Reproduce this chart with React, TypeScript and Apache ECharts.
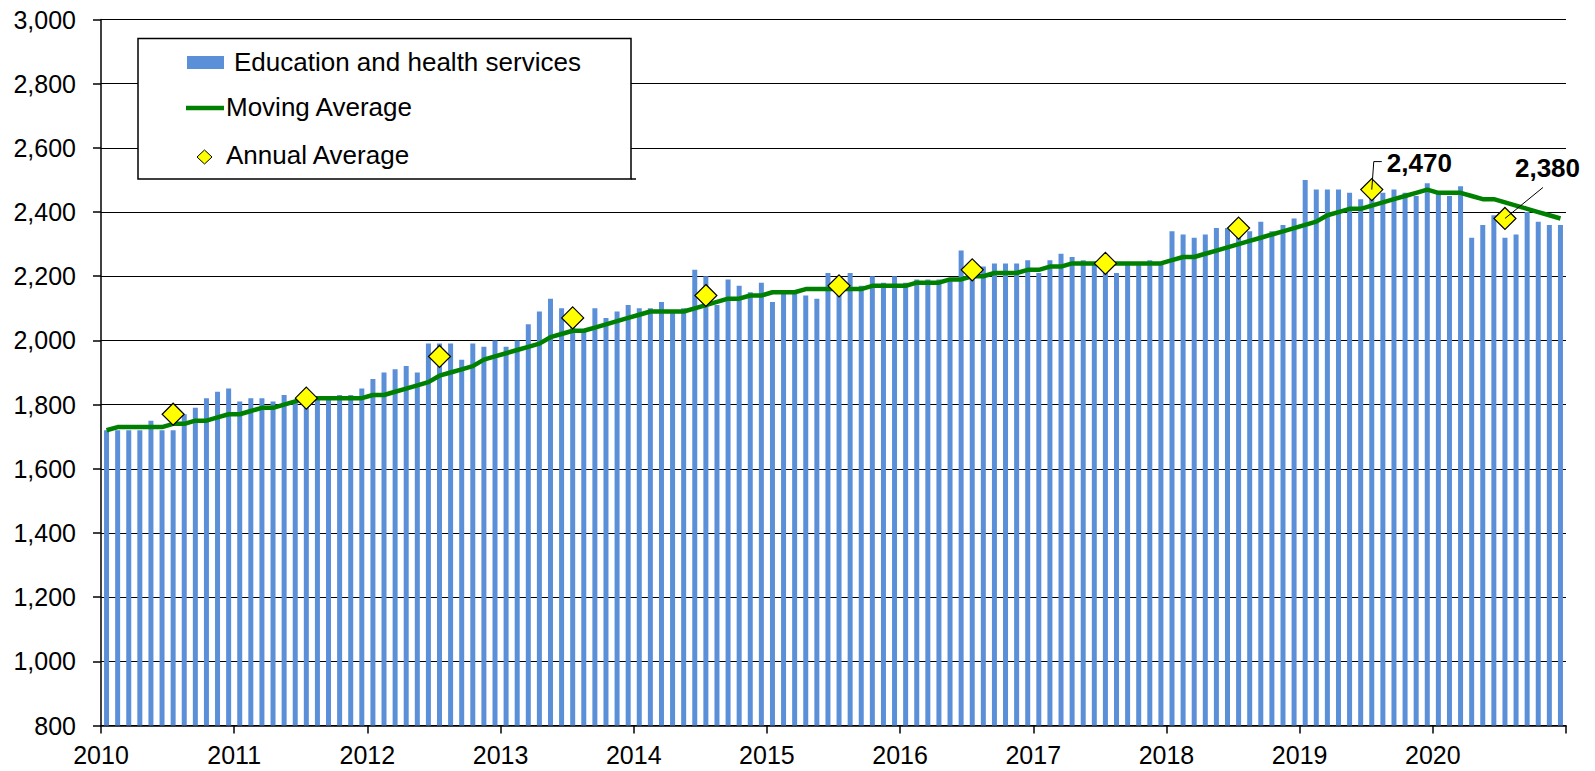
import React, { useEffect, useRef } from "react";
import * as echarts from "echarts";

const years = ["2010", "2011", "2012", "2013", "2014", "2015", "2016", "2017", "2018", "2019", "2020"];
const monthCodes = ["01", "02", "03", "04", "05", "06", "07", "08", "09", "10", "11", "12"];

const barValues = [
  1720, 1720, 1720, 1720, 1750, 1720, 1720, 1770, 1790, 1820, 1840, 1850,
  1810, 1820, 1820, 1810, 1830, 1810, 1810, 1820, 1820, 1830, 1830, 1850,
  1880, 1900, 1910, 1920, 1900, 1990, 1990, 1990, 1940, 1990, 1980, 2000,
  1980, 2000, 2050, 2090, 2130, 2100, 2090, 2030, 2100, 2070, 2090, 2110,
  2100, 2100, 2120, 2090, 2100, 2220, 2200, 2110, 2190, 2170, 2150, 2180,
  2120, 2150, 2150, 2140, 2130, 2210, 2180, 2210, 2170, 2200, 2180, 2200,
  2180, 2190, 2190, 2190, 2190, 2280, 2210, 2230, 2240, 2240, 2240, 2250,
  2210, 2250, 2270, 2260, 2250, 2240, 2230, 2210, 2240, 2240, 2250, 2240,
  2340, 2330, 2320, 2330, 2350, 2350, 2370, 2340, 2370, 2340, 2360, 2380,
  2500, 2470, 2470, 2470, 2460, 2440, 2450, 2460, 2470, 2460, 2450, 2490,
  2460, 2450, 2480, 2320, 2360, 2390, 2320, 2330, 2400, 2370, 2360, 2360,
];

const movingAverage = [
  1720, 1730, 1730, 1730, 1730, 1730, 1740, 1740, 1750, 1750, 1760, 1770,
  1770, 1780, 1790, 1790, 1800, 1810, 1820, 1820, 1820, 1820, 1820, 1820,
  1830, 1830, 1840, 1850, 1860, 1870, 1890, 1900, 1910, 1920, 1940, 1950,
  1960, 1970, 1980, 1990, 2010, 2020, 2030, 2030, 2040, 2050, 2060, 2070,
  2080, 2090, 2090, 2090, 2090, 2100, 2110, 2120, 2130, 2130, 2140, 2140,
  2150, 2150, 2150, 2160, 2160, 2160, 2160, 2160, 2160, 2170, 2170, 2170,
  2170, 2180, 2180, 2180, 2190, 2190, 2200, 2200, 2210, 2210, 2210, 2220,
  2220, 2230, 2230, 2240, 2240, 2240, 2240, 2240, 2240, 2240, 2240, 2240,
  2250, 2260, 2260, 2270, 2280, 2290, 2300, 2310, 2320, 2330, 2340, 2350,
  2360, 2370, 2390, 2400, 2410, 2410, 2420, 2430, 2440, 2450, 2460, 2470,
  2460, 2460, 2460, 2450, 2440, 2440, 2430, 2420, 2410, 2400, 2390, 2380,
];

const annualAverage = [1770, 1820, 1950, 2070, 2140, 2170, 2220, 2240, 2350, 2470, 2380];

const FONT = "'Liberation Sans', Arial, sans-serif";
const BAR_COLOR = "#5b8fd8";
const LINE_COLOR = "#008000";

export default function App() {
  const ref = useRef<HTMLDivElement>(null);

  useEffect(() => {
    if (!ref.current) return;
    const chart = echarts.init(ref.current, null, { renderer: "svg" });
    const months = years.flatMap((y) => monthCodes.map((m) => `${y}-${m}`));
    const annualPoints = years.map((y, i) => [`${y}-07`, annualAverage[i]]);
    const fmt = (v: number) => v.toLocaleString("en-US");

    chart.setOption({
      animation: false,
      grid: { left: 101, top: 19.5, width: 1465, height: 706, containLabel: false },
      xAxis: [
        {
          type: "category",
          data: months,
          boundaryGap: true,
          axisLine: { show: true, lineStyle: { color: "#000", width: 1.5 } },
          axisTick: { show: false },
          axisLabel: { show: false },
          splitLine: { show: false },
        },
        {
          type: "value",
          min: 0,
          max: months.length,
          interval: 12,
          position: "bottom",
          axisLine: { show: false },
          axisTick: { show: true, length: 8, lineStyle: { color: "#000", width: 1.5 } },
          axisLabel: {
            show: true,
            showMinLabel: true,
            showMaxLabel: true,
            formatter: (v: number) => years[Math.round(v / 12)] ?? "",
            fontSize: 25,
            fontFamily: FONT,
            color: "#000",
            margin: 17,
          },
          splitLine: { show: false },
        },
      ],
      yAxis: {
        type: "value",
        min: 800,
        max: 3000,
        interval: 200,
        axisLine: { show: true, lineStyle: { color: "#000", width: 1.5 } },
        axisTick: { show: true, length: 8, lineStyle: { color: "#000", width: 1.5 } },
        axisLabel: {
          formatter: (v: number) => fmt(v),
          fontSize: 25,
          fontFamily: FONT,
          color: "#000",
          margin: 25,
        },
        splitLine: { show: true, lineStyle: { color: "#000", width: 1.2 } },
      },
      series: [
        {
          name: "Education and health services",
          type: "bar",
          xAxisIndex: 0,
          data: barValues,
          barWidth: 5,
          itemStyle: { color: BAR_COLOR },
        },
        {
          name: "Moving Average",
          type: "line",
          xAxisIndex: 0,
          data: movingAverage,
          symbol: "none",
          lineStyle: { color: LINE_COLOR, width: 4.5 },
          z: 3,
        },
        {
          name: "Annual Average",
          type: "scatter",
          xAxisIndex: 0,
          data: annualPoints,
          symbol: "diamond",
          symbolSize: [22, 22],
          itemStyle: { color: "#ffff00", borderColor: "#000", borderWidth: 1.2, opacity: 1 },
          z: 4,
        },
      ],
    });

    const last = years.length - 1;
    const p19 = chart.convertToPixel({ seriesIndex: 2 }, [`${years[last - 1]}-07`, annualAverage[last - 1]]) as number[];
    const p20 = chart.convertToPixel({ seriesIndex: 2 }, [`${years[last]}-07`, annualAverage[last]]) as number[];

    const legendText = (x: number, y: number, text: string) => ({
      type: "text",
      x,
      y,
      z: 20,
      style: { text, fontSize: 26, fontFamily: FONT, fill: "#000", verticalAlign: "middle", align: "left" },
    });

    chart.setOption({
      graphic: [
        {
          type: "rect",
          z: 19,
          shape: { x: 138, y: 38.5, width: 493, height: 140.5 },
          style: { fill: "#fff", stroke: "#000", lineWidth: 1.5 },
        },
        { type: "line", z: 19, shape: { x1: 631, y1: 179, x2: 636, y2: 179 }, style: { stroke: "#000", lineWidth: 1.5 } },
        { type: "rect", z: 20, shape: { x: 187, y: 56, width: 37, height: 13 }, style: { fill: BAR_COLOR } },
        legendText(234, 62, "Education and health services"),
        { type: "line", z: 20, shape: { x1: 186, y1: 108, x2: 224, y2: 108 }, style: { stroke: LINE_COLOR, lineWidth: 4.5 } },
        legendText(226, 107, "Moving Average"),
        {
          type: "polygon",
          z: 20,
          shape: { points: [[204.5, 150], [212, 157], [204.5, 164], [197, 157]] },
          style: { fill: "#ffff00", stroke: "#000", lineWidth: 1 },
        },
        legendText(226, 155, "Annual Average"),
        {
          type: "polyline",
          z: 20,
          shape: { points: [[p19[0], p19[1]], [p19[0] + 2, p19[1] - 28], [p19[0] + 10, p19[1] - 28]] },
          style: { stroke: "#000", lineWidth: 1, fill: null },
        },
        {
          type: "text",
          z: 20,
          x: p19[0] + 15,
          y: p19[1] - 27,
          style: {
            text: fmt(annualAverage[last - 1]),
            fontSize: 26,
            fontWeight: "bold",
            fontFamily: FONT,
            fill: "#000",
            verticalAlign: "middle",
            align: "left",
          },
        },
        {
          type: "line",
          z: 20,
          shape: { x1: p20[0], y1: p20[1], x2: p20[0] + 38, y2: p20[1] - 31 },
          style: { stroke: "#000", lineWidth: 1 },
        },
        {
          type: "text",
          z: 20,
          x: p20[0] + 10,
          y: p20[1] - 50,
          style: {
            text: fmt(annualAverage[last]),
            fontSize: 26,
            fontWeight: "bold",
            fontFamily: FONT,
            fill: "#000",
            verticalAlign: "middle",
            align: "left",
          },
        },
      ],
    });

    return () => chart.dispose();
  }, []);

  return (
    <div
      ref={ref}
      style={{ position: "absolute", left: 0, top: 0, width: 1595, height: 771, background: "#fff" }}
    />
  );
}
